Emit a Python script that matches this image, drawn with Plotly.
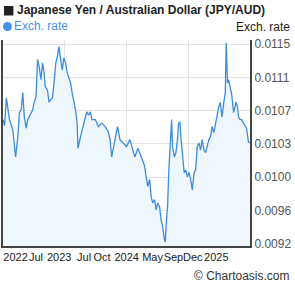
import plotly.graph_objects as go
from datetime import date, timedelta

# ---- data ----
start_date = date(2022, 7, 25)
day_offsets = [0, 7, 15, 29, 44, 56, 66, 73, 81, 88, 95, 103, 110, 117, 132, 139, 147, 154, 161, 169,
               176, 183, 188, 198, 205, 213, 220, 227, 235, 242, 249, 257, 264, 271, 279, 286, 293, 301,
               308, 315, 323, 330, 334, 345, 352, 359, 367, 374, 381, 389, 396, 411, 425, 440, 455, 469,
               477, 484, 499, 510, 521, 535, 550, 565, 579, 587, 601, 616, 629, 645, 653, 660, 667, 675,
               682, 689, 697, 704, 711, 719, 723, 726, 733, 738, 745, 751, 755, 763, 770, 777, 782, 788,
               792, 799, 807, 814, 821, 829, 836, 843, 851, 858, 865, 873, 880, 887, 895, 902, 909, 917,
               924, 931, 939, 946, 953, 961, 968, 975, 983, 990, 994, 1000, 1005, 1012, 1019, 1027, 1034,
               1038, 1044, 1049, 1056, 1063, 1071, 1078, 1085, 1093, 1100]
rates = [0.01063, 0.01056, 0.01088, 0.01063, 0.01051, 0.01020, 0.01043, 0.01071, 0.01074, 0.01094,
         0.01066, 0.01053, 0.01063, 0.01066, 0.01074, 0.01083, 0.01089, 0.01132, 0.01124, 0.01109,
         0.01128, 0.01117, 0.01101, 0.01097, 0.01083, 0.01086, 0.01088, 0.01105, 0.01128, 0.01135,
         0.01147, 0.01132, 0.01120, 0.01134, 0.01128, 0.01117, 0.01111, 0.01105, 0.01094, 0.01086,
         0.01074, 0.01059, 0.01030, 0.01043, 0.01051, 0.01059, 0.01066, 0.01072, 0.01068, 0.01072,
         0.01063, 0.01063, 0.01055, 0.01059, 0.01055, 0.01049, 0.01040, 0.01020, 0.01040, 0.01055,
         0.01040, 0.01036, 0.01032, 0.01040, 0.01026, 0.01020, 0.01030, 0.01019, 0.01011, 0.00986,
         0.00994, 0.00974, 0.00967, 0.00971, 0.00959, 0.00967, 0.00963, 0.00948, 0.00940, 0.00925,
         0.00922, 0.00940, 0.00963, 0.01002, 0.01040, 0.01063, 0.01032, 0.01020, 0.01025, 0.01040,
         0.01059, 0.01060, 0.01043, 0.01020, 0.01002, 0.01005, 0.00997, 0.01002, 0.00994, 0.00982,
         0.01002, 0.01005, 0.01032, 0.01036, 0.01028, 0.01040, 0.01028, 0.01025, 0.01032, 0.01040,
         0.01043, 0.01055, 0.01048, 0.01059, 0.01066, 0.01078, 0.01083, 0.01066, 0.01082, 0.01094,
         0.01151, 0.01105, 0.01109, 0.01101, 0.01091, 0.01071, 0.01078, 0.01083, 0.01078, 0.01066,
         0.01063, 0.01063, 0.01059, 0.01055, 0.01053, 0.01037, 0.01036]

tick_days = [56, 147, 250, 361, 441, 551, 666, 759, 845, 950]
tick_labels = ["2022", "Jul", "2023", "Jul", "Oct", "2024", "May", "Sep", "Dec", "2025"]
grid_days = [275, 550, 825]
y_min, y_max = 0.0092, 0.0115
y_tick_labels = ["0.0092", "0.0096", "0.0100", "0.0103", "0.0107", "0.0111", "0.0115"]

# ---- build ----
dates = [start_date + timedelta(days=d) for d in day_offsets]
tick_dates = [start_date + timedelta(days=d) for d in tick_days]
grid_dates = [start_date + timedelta(days=d) for d in grid_days]
y_ticks = [y_min + i * (y_max - y_min) / 6 for i in range(7)]

FONT = "Liberation Sans, Arial, sans-serif"
W, H = 295, 288
L, R, T, B = 1, 45, 40, 42
pw, ph = W - L - R, H - T - B


def px(x):
    return (x - L) / pw


def py(y):
    return (H - B - y) / ph


fig = go.Figure()
fig.add_trace(go.Scatter(
    x=dates, y=rates, mode="lines",
    line=dict(color="#3D8CDF", width=1.3),
    fill="tozeroy", fillcolor="#EEF6FE",
    hoverinfo="skip",
))

fig.update_layout(
    width=W, height=H,
    margin=dict(l=L, r=R, t=T, b=B, pad=0),
    paper_bgcolor="white", plot_bgcolor="white",
    showlegend=False,
    font=dict(family=FONT, size=12, color="#333"),
    xaxis=dict(
        type="date",
        range=[start_date, start_date + timedelta(days=1100)],
        tickmode="array", tickvals=tick_dates, ticktext=tick_labels,
        tickangle=0, ticks="", showgrid=False,
        tickfont=dict(family=FONT, size=11, color="#222"),
        showline=True, linecolor="#444", linewidth=2,
        minor=dict(tickvals=grid_dates, showgrid=True, gridcolor="#E4E4E4", gridwidth=1, ticks=""),
        zeroline=False, fixedrange=True,
    ),
    yaxis=dict(
        side="right",
        range=[0.009175, 0.011546],
        tickmode="array", tickvals=y_ticks, ticktext=y_tick_labels,
        ticks="", showgrid=True, gridcolor="#E4E4E4", gridwidth=1,
        tickfont=dict(family=FONT, size=12, color="#555"),
        showline=True, linecolor="#444", linewidth=2, mirror=True,
        zeroline=False, fixedrange=True,
    ),
    shapes=[
        dict(type="rect", xref="paper", yref="paper",
             x0=px(2), x1=px(11.5), y0=py(15.5), y1=py(6), fillcolor="#222", line=dict(width=0)),
        dict(type="circle", xref="paper", yref="paper",
             x0=px(1), x1=px(10), y0=py(31), y1=py(22), fillcolor="#4A90E2", line=dict(width=0)),
    ],
    annotations=[
        dict(text="<b>Japanese Yen / Australian Dollar (JPY/AUD)</b>", xref="paper", yref="paper",
             x=px(13), y=py(10.5), xanchor="left", yanchor="middle", showarrow=False,
             font=dict(family=FONT, size=12, color="#222")),
        dict(text="Exch. rate", xref="paper", yref="paper",
             x=px(10.5), y=py(26), xanchor="left", yanchor="middle", showarrow=False,
             font=dict(family=FONT, size=12, color="#4A90E2")),
        dict(text="Exch. rate", xref="paper", yref="paper",
             x=px(292), y=py(27), xanchor="right", yanchor="middle", showarrow=False,
             font=dict(family=FONT, size=12, color="#222")),
        dict(text="© Chartoasis.com", xref="paper", yref="paper",
             x=px(292), y=py(275.5), xanchor="right", yanchor="middle", showarrow=False,
             font=dict(family=FONT, size=12, color="#333")),
    ],
)

fig.write_html("out.html")
